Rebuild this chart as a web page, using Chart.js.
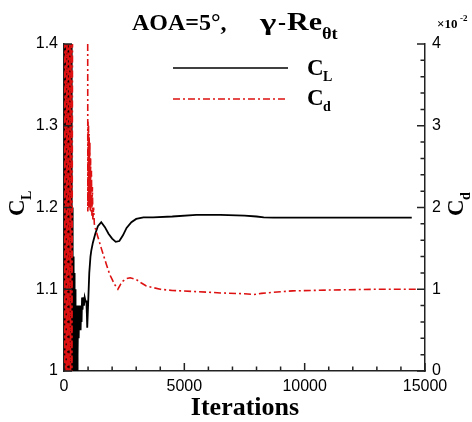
<!DOCTYPE html>
<html>
<head>
<meta charset="utf-8">
<script src="https://cdn.jsdelivr.net/npm/chart.js@4/dist/chart.umd.min.js"></script>
<style>
html,body{margin:0;padding:0;background:#fff;}
#wrap{width:472px;height:422px;position:relative;}
</style>
</head>
<body>
<div id="wrap"><canvas id="c" width="472" height="422"></canvas></div>
<script>
// ---- data ----
const iterCL = [0,10,20,30,40,50,60,70,80,90,100,110,120,130,140,150,160,170,180,190,200,210,220,230,240,250,260,270,280,290,300,310,320,
  330,340,350,360,370,380,390,400,410,420,430,440,450,460,470,480,490,500,510,520,530,540,550,560,570,590,610,630,650,670,690,710,730,750,770,800,830,860,900,930,950,965,
  1000,1050,1100,1132,1200,1300,1408,1548,1700,1850,2000,2150,2300,2450,2600,2800,3000,3300,3700,4500,5500,6500,7500,8000,8300,8700,10000,12000,14450];
const valCL = [1.8,0.6,1.75,0.65,1.7,0.7,1.68,0.72,1.65,0.74,1.62,0.76,1.6,0.78,1.58,0.8,1.55,0.82,1.52,0.84,1.5,0.86,1.48,0.88,1.46,0.9,1.44,0.91,1.43,0.92,1.42,0.93,1.41,
  0.94,1.2,0.94,1.16,0.95,1.14,0.95,1.14,0.96,1.12,0.96,1.10,0.97,1.10,0.97,1.09,0.98,1.075,0.98,1.074,0.99,1.08,1.0,1.075,1.02,1.08,1.04,1.075,1.05,1.08,1.05,1.075,1.06,1.09,1.075,1.09,1.08,1.09,1.085,1.085,1.07,1.053,
  1.08,1.12,1.14,1.147,1.157,1.168,1.177,1.182,1.176,1.168,1.162,1.158,1.159,1.166,1.175,1.182,1.186,1.188,1.188,1.189,1.191,1.191,1.190,1.189,1.188,1.1875,1.1875,1.1875,1.1875];

// Cd in units of 1e-2
const iterCd = [0,30,60,90,120,150,180,210,240,270,300,330,360,375,980,
  990,1000,1010,1020,1030,1045,1060,1075,1090,1105,1120,1140,1160,1180,1200,1230,1260,1300,1408,1550,1755,1900,2000,2100,2240,2350,2450,2600,2750,3000,3200,3420,3700,4000,4500,5600,6500,7500,7900,8200,9000,9500,11000,13000,14650];
const valCd = [5.5,-0.5,5.5,-0.5,5.5,-0.5,5.5,-0.5,5.5,-0.5,5.5,-0.5,5.5,6,6,
  1.95,3.05,2.0,3.0,2.0,2.9,2.0,2.8,1.95,2.6,1.95,2.45,1.9,2.25,1.85,2.0,1.8,1.75,1.64,1.5,1.31,1.18,1.12,1.06,1.0,1.06,1.1,1.13,1.14,1.12,1.08,1.04,1.02,1.0,0.985,0.97,0.955,0.945,0.935,0.95,0.97,0.98,0.99,1.0,1.0];

const xMajorTicks = [0,5000,10000,15000];
const clTicks = [1,1.1,1.2,1.3,1.4];
const cdTicks = [0,1,2,3,4];

const SERIF = '"Liberation Serif","Times New Roman",serif';
const SANS = '"Liberation Sans",Arial,sans-serif';

const tickPlugin = {
  id: 'inTicks',
  afterDatasetsDraw(chart) {
    const ctx = chart.ctx, a = chart.chartArea;
    const xs = chart.scales.x, yl = chart.scales.y, yr = chart.scales.y1;
    ctx.save();
    ctx.strokeStyle = '#222';
    ctx.lineWidth = 1.5;
    ctx.beginPath();
    for (let v = 0; v <= 15000; v += 1000) {
      const px = xs.getPixelForValue(v);
      const len = xMajorTicks.includes(v) ? 8 : 4.5;
      ctx.moveTo(px, a.bottom); ctx.lineTo(px, a.bottom - len);
    }
    clTicks.forEach(v => {
      const py = yl.getPixelForValue(v);
      ctx.moveTo(a.left, py); ctx.lineTo(a.left + 8, py);
    });
    for (let k = 0; k <= 20; k++) {
      const v = k * 0.2;
      const py = yr.getPixelForValue(v);
      const len = (k % 5 === 0) ? 8 : 4.5;
      ctx.moveTo(a.right, py); ctx.lineTo(a.right - len, py);
    }
    ctx.stroke();
    ctx.restore();
  },
  afterDraw(chart) {
    const ctx = chart.ctx;
    ctx.save();
    ctx.fillStyle = '#000';
    ctx.textBaseline = 'alphabetic';
    ctx.textAlign = 'left';
    // title
    ctx.font = 'bold 24px ' + SERIF;
    ctx.fillText('AOA=5°,', 132, 30);
    ctx.save();
    ctx.translate(260, 30);
    ctx.scale(1.45, 1);
    ctx.fillText('γ', 0, 0);
    ctx.restore();
    ctx.fillText('-', 278, 30);
    ctx.font = 'bold 25px ' + SERIF;
    ctx.save();
    ctx.translate(287, 30);
    ctx.scale(1.2, 1);
    ctx.fillText('Re', 0, 0);
    ctx.restore();
    ctx.font = 'bold 16px ' + SERIF;
    ctx.save();
    ctx.translate(322, 39);
    ctx.scale(1.15, 1);
    ctx.fillText('θt', 0, 0);
    ctx.restore();
    // legend
    ctx.lineWidth = 1.6;
    ctx.strokeStyle = '#000';
    ctx.beginPath(); ctx.moveTo(173, 68); ctx.lineTo(288, 68); ctx.stroke();
    ctx.strokeStyle = '#dd1111';
    ctx.setLineDash([7,3,2,3]);
    ctx.beginPath(); ctx.moveTo(173, 99); ctx.lineTo(288, 99); ctx.stroke();
    ctx.setLineDash([]);
    ctx.font = 'bold 23px ' + SERIF;
    ctx.fillText('C', 307, 75);
    ctx.fillText('C', 307, 105);
    ctx.font = 'bold 14px ' + SERIF;
    ctx.fillText('L', 323, 81);
    ctx.fillText('d', 323, 111);
    // x axis title
    ctx.textAlign = 'center';
    ctx.font = 'bold 26px ' + SERIF;
    ctx.fillText('Iterations', 245, 415);
    // x10^-2
    ctx.textAlign = 'left';
    ctx.font = 'bold 13px ' + SERIF;
    ctx.fillText('×10', 437, 28);
    ctx.font = 'bold 9px ' + SERIF;
    ctx.fillText('-2', 460, 21);
    // left axis title
    ctx.save();
    ctx.translate(24, 216);
    ctx.rotate(-Math.PI / 2);
    ctx.font = 'bold 23px ' + SERIF;
    ctx.fillText('C', 0, 0);
    ctx.font = 'bold 14px ' + SERIF;
    ctx.fillText('L', 16, 7);
    ctx.restore();
    // right axis title
    ctx.save();
    ctx.translate(463, 216);
    ctx.rotate(-Math.PI / 2);
    ctx.font = 'bold 23px ' + SERIF;
    ctx.fillText('C', 0, 0);
    ctx.font = 'bold 14px ' + SERIF;
    ctx.fillText('d', 16, 7);
    ctx.restore();
    ctx.restore();
  }
};

const fmt = v => String(+Number(v).toFixed(2));

new Chart(document.getElementById('c'), {
  type: 'line',
  data: {
    datasets: [
      {
        label: 'C_L',
        data: iterCL.map((x, i) => ({x: x, y: valCL[i]})),
        yAxisID: 'y',
        borderColor: '#000',
        borderWidth: 1.8,
        pointRadius: 0,
        tension: 0,
        order: 1
      },
      {
        label: 'C_d',
        data: iterCd.map((x, i) => ({x: x, y: valCd[i]})),
        yAxisID: 'y1',
        borderColor: '#dd1111',
        borderWidth: 1.6,
        borderDash: [7,3,2,3],
        pointRadius: 0,
        tension: 0,
        order: 0
      }
    ]
  },
  options: {
    responsive: false,
    animation: false,
    events: [],
    layout: {padding: {top: 44, left: 0, right: 0, bottom: 0}},
    plugins: {legend: {display: false}, title: {display: false}, tooltip: {enabled: false}},
    scales: {
      x: {
        type: 'linear', min: 0, max: 15000,
        afterBuildTicks: s => { s.ticks = xMajorTicks.map(v => ({value: v})); },
        ticks: {color: '#000', font: {family: SANS, size: 16}, padding: 6, maxRotation: 0, autoSkip: false, callback: fmt},
        grid: {display: true, drawOnChartArea: false, drawTicks: false},
        border: {display: true, color: '#222', width: 1.5},
        afterFit: s => { s.height = 51; }
      },
      y: {
        type: 'linear', position: 'left', min: 1, max: 1.4,
        afterBuildTicks: s => { s.ticks = clTicks.map(v => ({value: v})); },
        ticks: {color: '#000', font: {family: SANS, size: 16}, padding: 6, callback: fmt},
        grid: {display: true, drawOnChartArea: false, drawTicks: false},
        border: {display: true, color: '#222', width: 1.5},
        afterFit: s => { s.width = 64; }
      },
      y1: {
        type: 'linear', position: 'right', min: 0, max: 4,
        afterBuildTicks: s => { s.ticks = cdTicks.map(v => ({value: v})); },
        ticks: {color: '#000', font: {family: SANS, size: 16}, padding: 7, callback: fmt},
        grid: {display: true, drawOnChartArea: false, drawTicks: false},
        border: {display: true, color: '#222', width: 1.5},
        afterFit: s => { s.width = 47; }
      }
    }
  },
  plugins: [tickPlugin]
});
</script>
</body>
</html>
